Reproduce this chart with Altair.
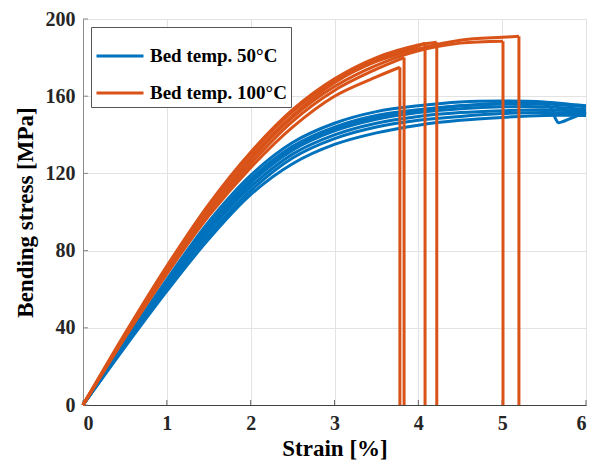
import altair as alt
import pandas as pd

LBL50 = "Bed temp. 50°C"
LBL100 = "Bed temp. 100°C"
BLUE = "#0072BD"
ORANGE = "#D95319"
FONT = "Liberation Serif"

x_ticks = [0, 1, 2, 3, 4, 5, 6]
y_ticks = [0, 40, 80, 120, 160, 200]

# Bed temp. 50 °C specimens
blue_strain = [0, 0.5, 1, 1.5, 2, 2.5, 3, 3.5, 4, 4.5, 5, 5.5, 6]
b1 = [0, 30, 59, 86, 109, 125, 135, 141, 145, 147.5, 149, 150, 150]
b2 = [0, 31, 61, 88, 111, 128, 138, 144, 147.5, 149.5, 151, 151.5, 151]
b3 = [0, 31, 62, 90, 113, 130, 140, 146, 149.5, 151.5, 152.5, 153, 152]
b4 = [0, 32, 63, 91, 115, 132, 142, 148, 151.5, 153.5, 154.5, 154.5, 153]
b5 = [0, 32, 64, 93, 117, 134, 144, 150, 153, 155, 156, 156, 154.5]
b6 = [0, 33, 65, 95, 119, 136, 146, 152, 155, 157, 157.5, 157, 155]
b7_strain = [0, 0.5, 1, 1.5, 2, 2.5, 3, 3.5, 4, 4.5, 5, 5.3, 5.5, 5.58, 5.63, 5.67, 5.75, 6]
b7 = [0, 32, 63, 92, 116, 133, 143, 149, 152.5, 155, 156.5, 157, 156, 154, 149, 146.3, 147.3, 151.7]

# Bed temp. 100 °C specimens (last point = fracture)
o1_strain = [0, 0.5, 1, 1.5, 2, 2.5, 3, 3.5, 3.78]
o1 = [0, 35, 68, 98, 123, 144, 160, 170, 175]
o2_strain = [0, 0.5, 1, 1.5, 2, 2.5, 3, 3.5, 3.83]
o2 = [0, 35, 68, 99, 125, 147, 163, 174, 180]
o3_strain = [0, 0.5, 1, 1.5, 2, 2.5, 3, 3.5, 4.0, 4.08]
o3 = [0, 36, 71, 103, 130, 152, 168, 179, 186, 187.5]
o4_strain = [0, 0.5, 1, 1.5, 2, 2.5, 3, 3.5, 4.0, 4.22]
o4 = [0, 37, 72, 104, 131, 153, 169, 180, 186.5, 188]
o5_strain = [0, 0.5, 1, 1.5, 2, 2.5, 3, 3.5, 4.0, 4.5, 5.01]
o5 = [0, 36, 69, 100, 127, 149, 165, 176, 183.5, 187.5, 188.5]
o6_strain = [0, 0.5, 1, 1.5, 2, 2.5, 3, 3.5, 4.0, 4.5, 5.0, 5.2]
o6 = [0, 36, 70, 101, 128, 150, 167, 178, 184.5, 189, 190.5, 191]

blue_set = [(blue_strain, b1), (blue_strain, b2), (blue_strain, b3), (blue_strain, b4),
            (blue_strain, b5), (blue_strain, b6), (b7_strain, b7)]
orange_set = [(o1_strain, o1), (o2_strain, o2), (o3_strain, o3),
              (o4_strain, o4), (o5_strain, o5), (o6_strain, o6)]

rows = []
for i, (xs, ys) in enumerate(blue_set):
    for x, y in zip(xs, ys):
        rows.append({"strain": x, "stress": y, "group": LBL50, "curve": f"b{i}"})
for i, (xs, ys) in enumerate(orange_set):
    for x, y in zip(xs, ys):
        rows.append({"strain": x, "stress": y, "group": LBL100, "curve": f"o{i}"})
df = pd.DataFrame(rows)

drops = pd.DataFrame({
    "strain": [xs[-1] for xs, _ in orange_set],
    "stress": [ys[-1] for _, ys in orange_set],
    "zero": [0] * len(orange_set),
})

W, H = 503, 386

xscale = alt.Scale(domain=[0, 6], nice=False, zero=False)
yscale = alt.Scale(domain=[0, 200], nice=False)

color = alt.Color(
    "group:N",
    scale=alt.Scale(domain=[LBL50, LBL100], range=[BLUE, ORANGE]),
    sort=[LBL50, LBL100],
    legend=alt.Legend(
        title=None, orient="top-left", offset=8,
        symbolType="stroke", symbolSize=2209, symbolStrokeWidth=3,
        labelFont=FONT, labelFontSize=19, labelFontWeight="bold", labelColor="#000000",
        labelOffset=5, strokeColor="#555555", fillColor="white", padding=4,
        rowPadding=2, labelLimit=400,
    ),
)

xaxis = alt.Axis(values=x_ticks, title="Strain [%]", format="d")
yaxis = alt.Axis(values=y_ticks, title="Bending stress [MPa]", format="d")

lines = alt.Chart(df).mark_line(strokeWidth=3, interpolate="catmull-rom").encode(
    x=alt.X("strain:Q", scale=xscale, axis=xaxis),
    y=alt.Y("stress:Q", scale=yscale, axis=yaxis),
    color=color,
    detail="curve:N",
    order=alt.Order("strain:Q"),
)

drop_rules = alt.Chart(drops).mark_rule(strokeWidth=3, color=ORANGE).encode(
    x=alt.X("strain:Q", scale=xscale),
    y=alt.Y("zero:Q", scale=yscale),
    y2="stress:Q",
)

xt = alt.Chart(pd.DataFrame({"t": x_ticks})).mark_rule(color="#666666", strokeWidth=1).encode(
    x=alt.X("t:Q", scale=xscale), y=alt.value(H), y2=alt.value(H - 5))
yt = alt.Chart(pd.DataFrame({"t": y_ticks})).mark_rule(color="#888888", strokeWidth=1).encode(
    y=alt.Y("t:Q", scale=yscale), x=alt.value(0), x2=alt.value(5))

chart = alt.layer(xt, yt, lines, drop_rules).properties(
    width=W, height=H,
    autosize=alt.AutoSizeParams(type="none"),
    padding={"left": 75, "top": 11, "right": 7, "bottom": 57},
).configure_view(
    stroke="#d4d4d4", strokeWidth=1
).configure_axis(
    grid=True, gridColor="#e3e3e3", gridWidth=1,
    tickSize=0, labelPadding=8,
    labelFont=FONT, labelFontSize=20, labelFontWeight="bold", labelColor="#262626",
    titleFont=FONT, titleFontSize=23, titleFontWeight="bold", titleColor="#000000",
).configure_axisX(
    domainColor="#404040", domainWidth=1, labelPadding=8, titlePadding=4,
).configure_axisY(
    domainColor="#8c8c8c", domainWidth=1, titlePadding=8,
)

chart.save("out.html", embed_options={"renderer": "svg", "actions": False})
